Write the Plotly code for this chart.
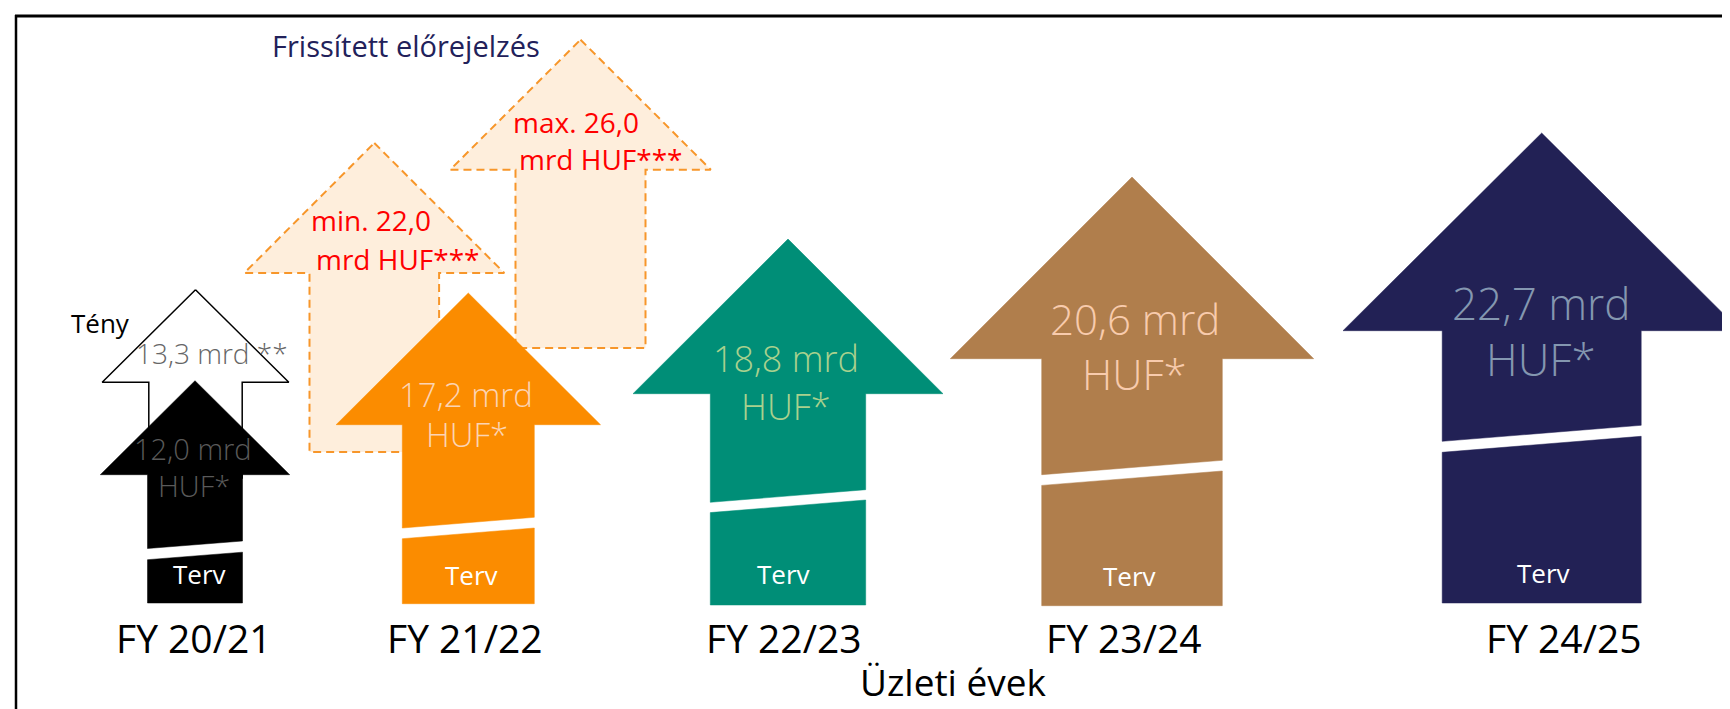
import plotly.graph_objects as go

# ---------------- data ----------------
years = ["FY 20/21", "FY 21/22", "FY 22/23", "FY 23/24", "FY 24/25"]
plan_values = [12.0, 17.2, 18.8, 20.6, 22.7]          # Terv (mrd HUF)
actual_2021 = 13.3                                     # Tény FY 20/21
forecast_min = 22.0                                    # Frissített előrejelzés (min)
forecast_max = 26.0                                    # Frissített előrejelzés (max)
x_title = "Üzleti évek"
forecast_title = "Frissített előrejelzés"
actual_label = "Tény"
plan_label = "Terv"

# ---------------- styles / layout geometry (pixel space) ----------------
W, H = 1730, 709
arrow_colors = ["#000000", "#FB8C00", "#008E77", "#B07E4C", "#222155"]
value_colors = ["#5A5A5A", "#FBD4B4", "#A9D18E", "#F8CBAD", "#8497B0"]
value_sizes = [29, 33, 36, 42, 44]

# cx, tip, head_y, head_half, shaft_half, cutL, cutR, gap, bottom
arrow_geom = [
    (187.0, 372.7, 466.7, 94.7, 47.5, 540.5, 533.0, 11.2, 595.0),
    (460.3, 285.0, 416.7, 132.2, 66.0, 520.0, 509.3, 10.7, 595.7),
    (780.0, 231.0, 385.7, 155.0, 77.7, 494.3, 481.7, 10.3, 597.0),
    (1124.0, 169.0, 350.7, 181.7, 90.3, 466.7, 452.3, 10.7, 597.7),
    (1533.7, 125.0, 322.7, 198.7, 99.5, 433.3, 417.3, 11.0, 595.0),
]
# text positions: (line1 x,y), (line2 x,y), (terv x,y)
text_pos = [
    ((185.0, 448.3), (185.7, 485.0), (191.7, 573.0)),
    ((458.3, 395.0), (459.3, 435.0), (463.3, 574.0)),
    ((778.3, 360.0), (778.3, 408.3), (775.0, 573.0)),
    ((1126.7, 321.7), (1126.7, 376.7), (1121.7, 575.0)),
    ((1533.3, 306.7), (1533.3, 363.3), (1535.0, 572.0)),
]
year_label_x = [186, 457, 776, 1116, 1556]
year_label_y = 640

actual_geom = (187.5, 281.7, 374.3, 93.3, 46.7, 470.0)   # cx, tip, head_y, head_half, shaft_half, bottom
forecast_geom = [
    (366.3, 135.0, 265.0, 130.0, 64.8, 444.0),
    (572.5, 31.7, 161.7, 130.3, 65.0, 340.0),
]
forecast_text_pos = [
    ((362.7, 220.0), (390.0, 258.3)),
    ((568.0, 121.7), (593.0, 158.3)),
]
forecast_fill = "#FEEEDC"
forecast_line = "#F7962A"
FONT = "Open Sans"


def fmt(v):
    return f"{v:.1f}".replace(".", ",")


def full_arrow(cx, tip, head_y, hh, sh, bottom):
    xs = [cx, cx + hh, cx + sh, cx + sh, cx - sh, cx - sh, cx - hh, cx]
    ys = [tip, head_y, head_y, bottom, bottom, head_y, head_y, tip]
    return xs, ys


def split_arrow(cx, tip, head_y, hh, sh, cutL, cutR, gap, bottom):
    up_x = [cx, cx + hh, cx + sh, cx + sh, cx - sh, cx - sh, cx - hh, cx]
    up_y = [tip, head_y, head_y, cutR, cutL, head_y, head_y, tip]
    lo_x = [cx - sh, cx + sh, cx + sh, cx - sh, cx - sh]
    lo_y = [cutL + gap, cutR + gap, bottom, bottom, cutL + gap]
    return (up_x, up_y), (lo_x, lo_y)


fig = go.Figure()

# forecast (dashed) arrows
for g in forecast_geom:
    xs, ys = full_arrow(*g)
    fig.add_trace(go.Scatter(x=xs, y=ys, mode="lines", fill="toself",
                             fillcolor=forecast_fill,
                             line=dict(color=forecast_line, width=2, dash="8px,5px"),
                             hoverinfo="skip", showlegend=False))

# actual (outline) arrow
xs, ys = full_arrow(*actual_geom)
fig.add_trace(go.Scatter(x=xs, y=ys, mode="lines", fill="toself", fillcolor="white",
                         line=dict(color="black", width=1.5),
                         hoverinfo="skip", showlegend=False))

# plan arrows
for g, c in zip(arrow_geom, arrow_colors):
    (ux, uy), (lx, ly) = split_arrow(*g)
    for px, py in ((ux, uy), (lx, ly)):
        fig.add_trace(go.Scatter(x=px, y=py, mode="lines", fill="toself", fillcolor=c,
                                 line=dict(color=c, width=0.5),
                                 hoverinfo="skip", showlegend=False))


def txt(x, y, text, size, color, weight=None):
    f = dict(family=FONT, size=size, color=color)
    if weight:
        f["weight"] = weight
    return dict(x=x, y=y, text=text, font=f, yshift=round(0.27 * size, 1))


ann = []
for v, tp, col, sz in zip(plan_values, text_pos, value_colors, value_sizes):
    (x1, y1), (x2, y2), (x3, y3) = tp
    ann.append(txt(x1, y1, f"{fmt(v)} mrd", sz, col, 300))
    ann.append(txt(x2, y2, "HUF*", sz, col, 300))
    ann.append(txt(x3, y3, plan_label, 26, "white"))

for v, pre, ((x1, y1), (x2, y2)) in zip([forecast_min, forecast_max], ["min.", "max."], forecast_text_pos):
    ann.append(txt(x1, y1, f"{pre} {fmt(v)}", 28, "#FF0000"))
    ann.append(txt(x2, y2, "mrd HUF***", 28, "#FF0000"))

ann.append(txt(204, 352.7, f"{fmt(actual_2021)} mrd **", 28, "#666666", 300))
ann.append(txt(92.5, 322, actual_label, 26, "black"))
ann.append(txt(397.5, 45, forecast_title, 29, "#22215A"))

for yr, xx in zip(years, year_label_x):
    ann.append(txt(xx, year_label_y, yr, 39, "black"))
ann.append(txt(945, 683, x_title, 37, "black"))

for a in ann:
    a.update(xref="x", yref="y", showarrow=False, xanchor="center", yanchor="middle")

fig.update_layout(
    width=W, height=H,
    margin=dict(l=0, r=0, t=0, b=0),
    paper_bgcolor="white", plot_bgcolor="white",
    xaxis=dict(range=[0, W], visible=False, fixedrange=True),
    yaxis=dict(range=[H, 0], visible=False, fixedrange=True),
    annotations=ann,
    shapes=[
        dict(type="line", xref="x", yref="y", x0=7, x1=W, y0=8, y1=8,
             line=dict(color="black", width=3)),
        dict(type="line", xref="x", yref="y", x0=8, x1=8, y0=7, y1=H,
             line=dict(color="black", width=2.5)),
    ],
)

fig.write_html("out.html")
